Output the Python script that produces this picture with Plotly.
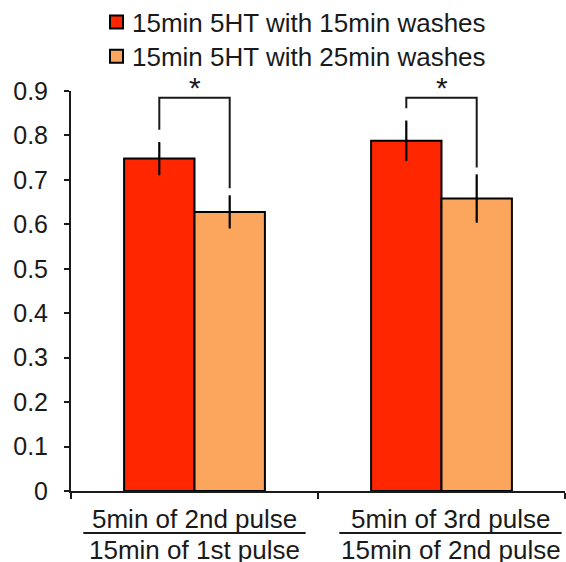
import plotly.graph_objects as go

# Ratio of response: later pulse window over earlier pulse window
categories = ["5min of 2nd pulse|15min of 1st pulse", "5min of 3rd pulse|15min of 2nd pulse"]
series_names = ["15min 5HT with 15min washes", "15min 5HT with 25min washes"]
wash15_mean = [0.748, 0.788]
wash15_err = [0.035, 0.043]
wash25_mean = [0.628, 0.658]
wash25_err = [0.035, 0.052]
sig_labels = ["*", "*"]
y_ticks = [0, 0.1, 0.2, 0.3, 0.4, 0.5, 0.6, 0.7, 0.8, 0.9]

FONT = "Liberation Sans, Arial, sans-serif"
INK = "#1a1a1a"
RED = "#FF2600"
ORANGE = "#FBA65C"
colors = [RED, ORANGE]
x_pos = list(range(len(categories)))

W, H = 566, 562
ML, MR, MT, MB = 71, 1, 91, 71
PW, PH = W - ML - MR, H - MT - MB


def px_to_paper(px, py):
    return (px - ML) / PW, (H - MB - py) / PH


fig = go.Figure()
for name, vals, errs, color in zip(series_names, [wash15_mean, wash25_mean],
                                   [wash15_err, wash25_err], colors):
    fig.add_trace(go.Bar(
        x=x_pos, y=vals, name=name, showlegend=False,
        marker=dict(color=color, line=dict(color="black", width=2)),
        error_y=dict(type="data", array=errs, visible=True,
                     color="black", thickness=2.2, width=1),
    ))

bargap = 0.43
half = (1 - bargap) / 4  # offset of each bar centre from its category centre

shapes = []
annotations = []
for i, lab in enumerate(sig_labels):
    xl, xr = i - half, i + half
    top = 0.885
    left_end = wash15_mean[i] + wash15_err[i] + 0.03
    right_end = wash25_mean[i] + wash25_err[i] + 0.018
    shapes.append(dict(
        type="path", xref="x", yref="y",
        path=f"M {xl},{left_end} L {xl},{top} L {xr},{top} L {xr},{right_end}",
        line=dict(color=INK, width=2),
    ))
    annotations.append(dict(
        x=i, y=top, xref="x", yref="y", text=lab, showarrow=False,
        yanchor="bottom", yshift=-8,
        font=dict(family=FONT, size=30, color=INK),
    ))

# Two-line "fraction" category labels under the axis
label_shift = [0, 9]
for i, cat in enumerate(categories):
    num, den = cat.split("|")
    annotations.append(dict(
        x=i, y=-0.113, xref="x", yref="paper", text=num, showarrow=False,
        yanchor="bottom", xshift=label_shift[i],
        font=dict(family=FONT, size=26, color=INK),
    ))
    annotations.append(dict(
        x=i, y=-0.106, xref="x", yref="paper", text=den, showarrow=False,
        yanchor="top", xshift=label_shift[i],
        font=dict(family=FONT, size=26, color=INK),
    ))
    cx = i + label_shift[i] / (PW / 2)
    shapes.append(dict(
        type="line", xref="x", yref="paper",
        x0=cx - 0.45, x1=cx + 0.45, y0=-0.105, y1=-0.105,
        line=dict(color=INK, width=2),
    ))

# Legend key: swatch squares with their series names
for k, (name, color) in enumerate(zip(series_names, colors)):
    cy = 22 + 34.3 * k
    x0, y0 = px_to_paper(110, cy + 6.5)
    x1, y1 = px_to_paper(123, cy - 6.5)
    shapes.append(dict(type="rect", xref="paper", yref="paper",
                       x0=x0, x1=x1, y0=y0, y1=y1, fillcolor=color,
                       line=dict(color="black", width=2)))
    tx, ty = px_to_paper(130, cy + 1)
    annotations.append(dict(
        x=tx, y=ty, xref="paper", yref="paper", text=name, showarrow=False,
        xanchor="left", yanchor="middle",
        font=dict(family=FONT, size=26, color=INK),
    ))

# small overhang of the baseline to the left of the value axis
shapes.append(dict(type="line", xref="paper", yref="y", x0=-0.013, x1=0,
                   y0=0, y1=0, line=dict(color=INK, width=2)))

fig.update_layout(
    width=W, height=H,
    margin=dict(l=ML, r=MR, t=MT, b=MB),
    paper_bgcolor="white", plot_bgcolor="white",
    barmode="group", bargap=bargap, bargroupgap=0,
    showlegend=False,
    xaxis=dict(
        range=[-0.5, 1.5], tickvals=[-0.5, 0.5, 1.5], ticktext=["", "", ""],
        ticks="outside", ticklen=6, tickwidth=2, tickcolor=INK,
        showline=True, linecolor=INK, linewidth=2,
        showgrid=False, zeroline=False, fixedrange=True,
    ),
    yaxis=dict(
        range=[0, 0.9], tickvals=y_ticks,
        ticktext=[f"{v:g}" for v in y_ticks],
        ticks="outside", ticklen=5, tickwidth=2, tickcolor=INK,
        ticklabelstandoff=11,
        showline=True, linecolor=INK, linewidth=2,
        showgrid=False, zeroline=False,
        tickfont=dict(family=FONT, size=25, color=INK),
    ),
    shapes=shapes, annotations=annotations,
)

fig.write_html("out.html")
